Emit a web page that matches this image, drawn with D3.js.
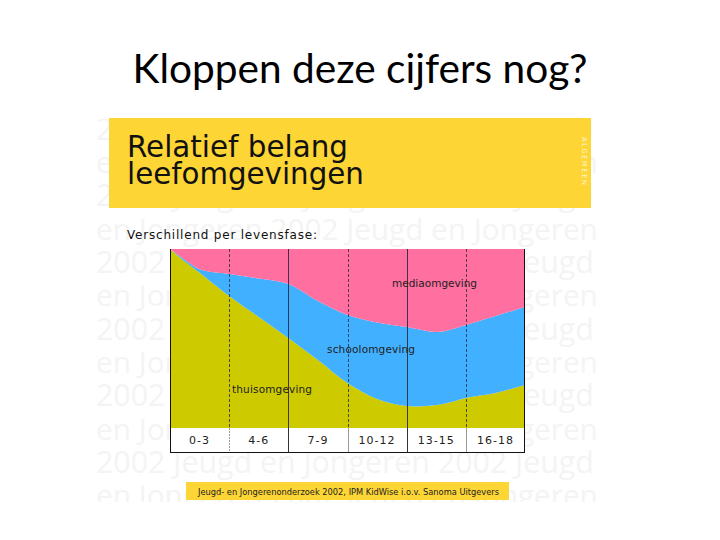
<!DOCTYPE html>
<html>
<head>
<meta charset="utf-8">
<script src="https://cdn.jsdelivr.net/npm/d3@7"></script>
<style>
  html, body { margin: 0; padding: 0; background: #fff; }
  svg { display: block; }
</style>
</head>
<body>
<svg id="chart" width="720" height="540"></svg>
<script>
// ---------------- data ----------------
const ageGroups = ["0-3", "4-6", "7-9", "10-12", "13-15", "16-18"];
const ages   = [0, 0.75, 1.5, 3, 4.5, 6, 7.5, 9, 10.5, 12, 13.5, 14.25, 15, 16.5, 18];
const thuis  = [100, 93, 86.7, 73.7, 62.0, 50.3, 38.0, 25.1, 16.2, 12.3, 12.8, 14.5, 16.8, 19.6, 24.0];
const school = [0, 1, 2.0, 12.3, 21.5, 30.1, 32.9, 38.0, 42.7, 44.1, 40.8, 40.5, 40.7, 43.0, 43.6];
const media  = [0, 6, 11.3, 14.0, 16.5, 19.6, 29.1, 36.9, 41.1, 43.6, 46.4, 45.0, 42.5, 37.4, 32.4];
const seriesNames = ["thuisomgeving", "schoolomgeving", "mediaomgeving"];
const slideTitle = "Kloppen deze cijfers nog?";
const headerLines = ["Relatief belang", "leefomgevingen"];
const sideTag = "ALGEMEEN";
const subTitle = "Verschillend per levensfase:";
const sourceText = "Jeugd- en Jongerenonderzoek 2002, IPM KidWise i.o.v. Sanoma Uitgevers";
const watermarkA = "2002 Jeugd en Jongeren 2002 Jeugd";
const watermarkB = "en Jongeren 2002 Jeugd en Jongeren";

(function () {
// ---------------- setup ----------------
const svg = d3.select("#chart");
svg.append("rect").attr("width", 720).attr("height", 540).attr("fill", "#fff");

function fitFont(sel, w) {
  const cur = sel.node().getComputedTextLength();
  const fs = parseFloat(sel.attr("font-size"));
  sel.attr("font-size", fs * w / cur);
  return sel;
}

// watermark background
svg.append("clipPath").attr("id", "wmclip")
  .append("rect").attr("x", 90).attr("y", 119).attr("width", 510).attr("height", 383);
const wm = svg.append("g").attr("clip-path", "url(#wmclip)");
for (let i = -4; i <= 7; i++) {
  const isA = ((i % 2) + 2) % 2 === 0;
  const t = wm.append("text")
    .attr("x", 96).attr("y", 273 + i * 33.33)
    .attr("font-family", "Open Sans").attr("font-size", 28)
    .attr("fill", "#f4f4f4")
    .text(isA ? watermarkA : watermarkB);
  fitFont(t, isA ? 498 : 502);
}

// slide title
const tt = svg.append("text")
  .attr("x", 360).attr("y", 83).attr("text-anchor", "middle")
  .attr("font-family", "Lato").attr("font-size", 34).attr("fill", "#000")
  .text(slideTitle);
fitFont(tt, 455);

// header box
svg.append("rect").attr("x", 109).attr("y", 118).attr("width", 482).attr("height", 90)
  .attr("fill", "#fdd535");
const h1 = svg.append("text").attr("x", 127).attr("y", 157)
  .attr("font-family", "DejaVu Sans").attr("font-size", 26).attr("fill", "#111")
  .text(headerLines[0]);
fitFont(h1, 221);
const h2 = svg.append("text").attr("x", 127).attr("y", 184)
  .attr("font-family", "DejaVu Sans").attr("font-size", 26).attr("fill", "#111")
  .text(headerLines[1]);
fitFont(h2, 237);
svg.append("text")
  .attr("transform", "translate(581.5,137) rotate(90)")
  .attr("font-family", "DejaVu Sans").attr("font-size", 7).attr("fill", "#fff6d0")
  .attr("textLength", 48).attr("lengthAdjust", "spacing")
  .text(sideTag);

// subtitle
svg.append("text").attr("x", 127).attr("y", 239)
  .attr("font-family", "DejaVu Sans").attr("font-size", 12).attr("fill", "#111")
  .attr("textLength", 190).attr("lengthAdjust", "spacing")
  .text(subTitle);

// ---------------- chart ----------------
const pLeft = 170, pRight = 525, pTop = 249, pBottom = 428, rowBottom = 453;
const x = d3.scaleLinear().domain([0, 18]).range([pLeft, pRight]);
const y = d3.scaleLinear().domain([0, 100]).range([pBottom, pTop]);
const band = d3.scaleBand().domain(ageGroups).range([pLeft, pRight]);

const rows = ages.map((a, i) => ({ age: a, thuisomgeving: thuis[i], schoolomgeving: school[i], mediaomgeving: media[i] }));
const stacked = d3.stack().keys(seriesNames)(rows);
const colors = { thuisomgeving: "#cdca00", schoolomgeving: "#41b0ff", mediaomgeving: "#ff6fa0" };
const area = d3.area()
  .x(d => x(d.data.age))
  .y0(d => y(d[0]))
  .y1(d => y(d[1]))
  .curve(d3.curveCatmullRom.alpha(0.5));

svg.append("g").selectAll("path").data(stacked).join("path")
  .attr("d", area)
  .attr("fill", d => colors[d.key]);

// column separators in the chart
const bounds = ageGroups.slice(1).map(g => band(g));
svg.append("g").selectAll("line").data(bounds).join("line")
  .attr("x1", d => Math.round(d) + 0.5).attr("x2", d => Math.round(d) + 0.5)
  .attr("y1", pTop).attr("y2", pBottom)
  .attr("stroke", "#2a2a40").attr("stroke-width", 1)
  .attr("stroke-dasharray", (d, i) => i % 2 === 0 ? "3,2" : null)
  .attr("opacity", (d, i) => i % 2 === 0 ? 0.8 : 0.9);

// label row
svg.append("rect").attr("x", pLeft).attr("y", pBottom).attr("width", pRight - pLeft).attr("height", rowBottom - pBottom)
  .attr("fill", "#fff");
svg.append("g").selectAll("line").data(bounds).join("line")
  .attr("x1", d => Math.round(d) + 0.5).attr("x2", d => Math.round(d) + 0.5)
  .attr("y1", pBottom).attr("y2", rowBottom)
  .attr("stroke", (d, i) => i % 2 === 0 ? "#9a9a9a" : "#333")
  .attr("stroke-dasharray", (d, i) => i === 0 ? "2,1" : null);
svg.append("g").selectAll("text").data(ageGroups).join("text")
  .attr("x", d => band(d) + band.bandwidth() / 2)
  .attr("y", 443.5)
  .attr("text-anchor", "middle")
  .attr("font-family", "DejaVu Sans").attr("font-size", 11)
  .attr("letter-spacing", 1)
  .attr("fill", "#222")
  .text(d => d);

// outer borders
const border = svg.append("g").attr("stroke", "#111").attr("stroke-width", 1).attr("fill", "none");
border.append("line").attr("x1", pLeft + 0.5).attr("x2", pLeft + 0.5).attr("y1", pTop).attr("y2", rowBottom);
border.append("line").attr("x1", pRight - 0.5).attr("x2", pRight - 0.5).attr("y1", pTop).attr("y2", rowBottom);
border.append("line").attr("x1", pLeft).attr("x2", pRight).attr("y1", rowBottom - 0.5).attr("y2", rowBottom - 0.5);

// series labels
const labelPos = {
  mediaomgeving:  { x: 392, y: 286.5, w: 85 },
  schoolomgeving: { x: 327, y: 352.5, w: 88 },
  thuisomgeving:  { x: 232, y: 393, w: 80 }
};
svg.append("g").selectAll("text").data(seriesNames).join("text")
  .attr("x", d => labelPos[d].x).attr("y", d => labelPos[d].y)
  .attr("font-family", "DejaVu Sans").attr("font-size", 10.5)
  .attr("fill", "#222")
  .attr("textLength", d => labelPos[d].w).attr("lengthAdjust", "spacing")
  .text(d => d);

// source footer
svg.append("rect").attr("x", 186).attr("y", 482).attr("width", 323).attr("height", 18).attr("fill", "#fdd535");
svg.append("text").attr("x", 198).attr("y", 494.5)
  .attr("font-family", "DejaVu Sans").attr("font-size", 8.5).attr("fill", "#222")
  .attr("textLength", 301).attr("lengthAdjust", "spacingAndGlyphs")
  .text(sourceText);
})();
</script>
</body>
</html>
